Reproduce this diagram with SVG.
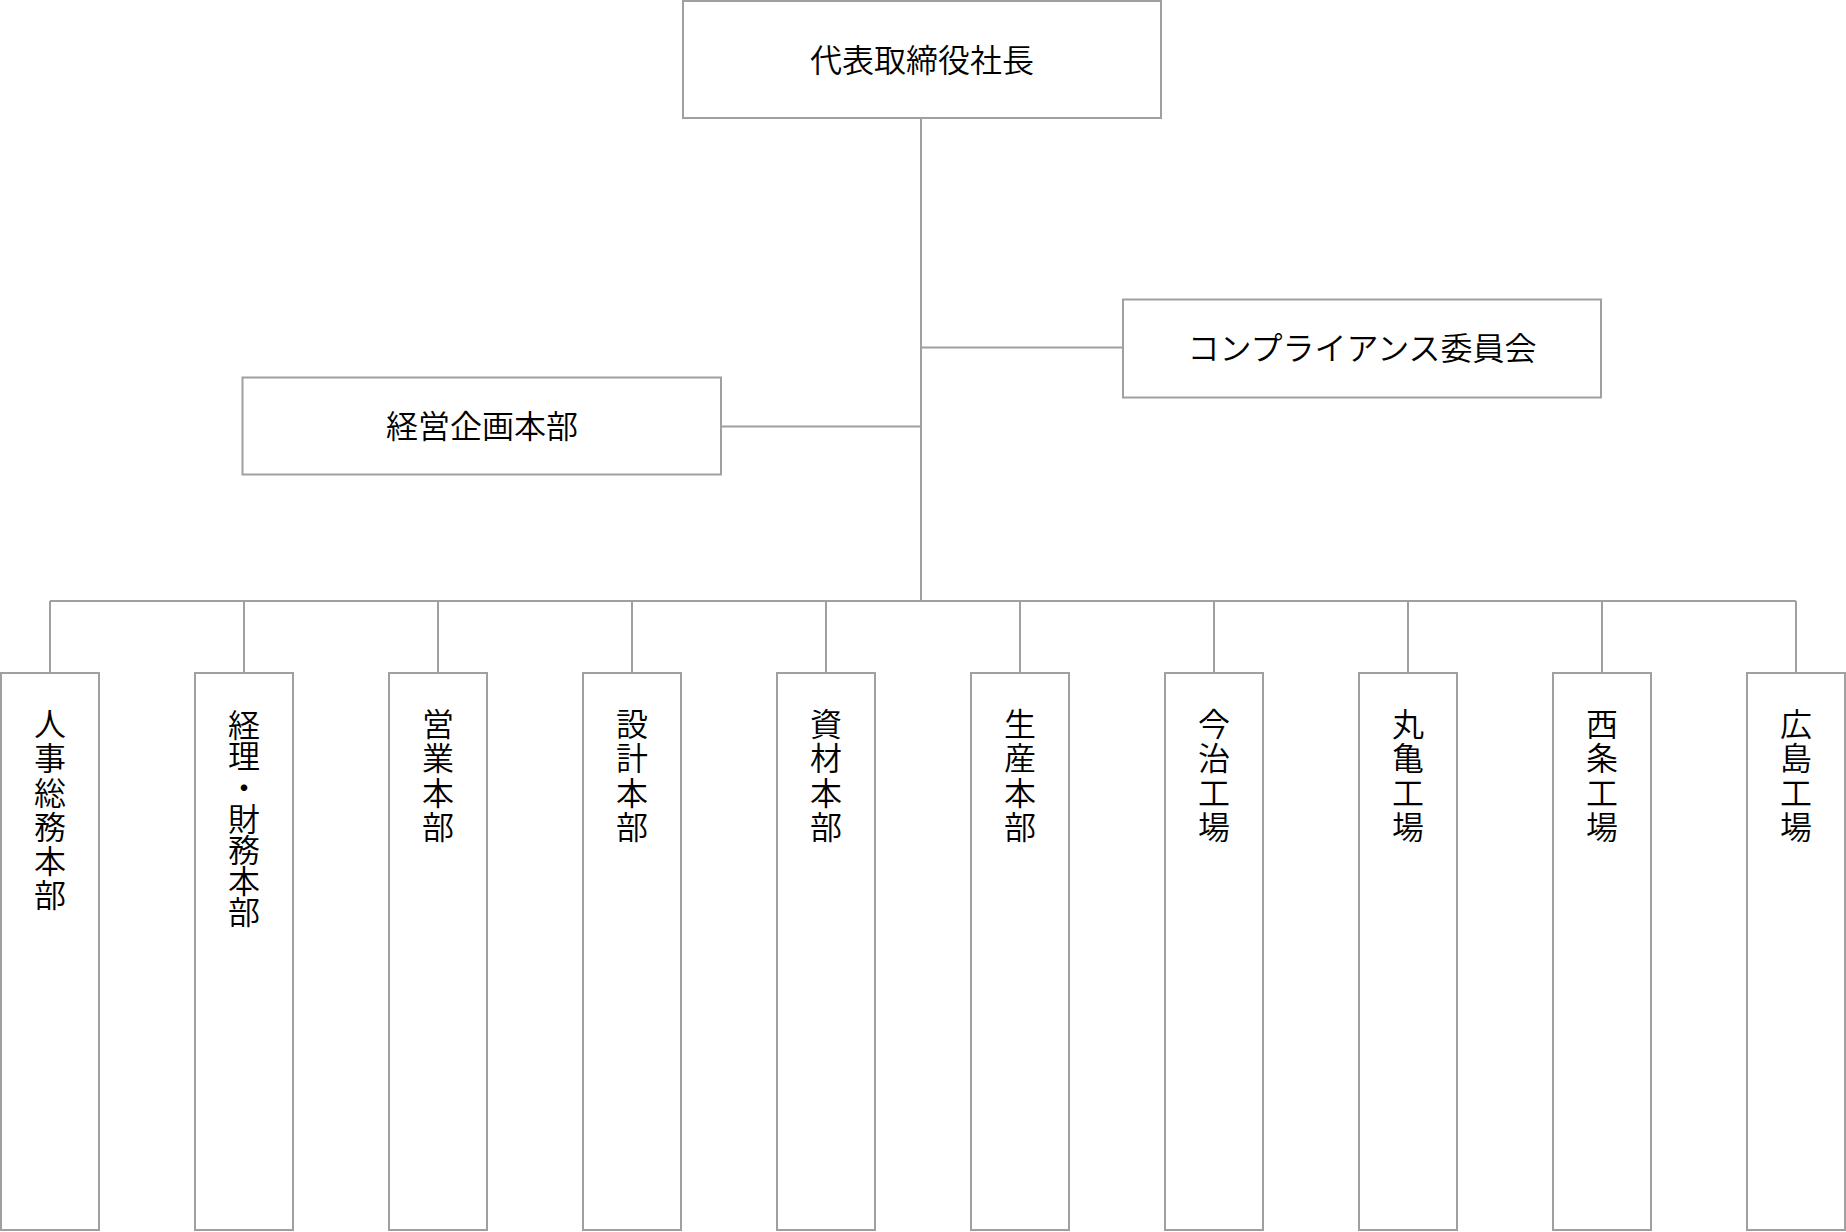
<svg xmlns="http://www.w3.org/2000/svg" width="1846" height="1232" viewBox="0 0 1846 1232">
<style>
.box{fill:#fff;stroke:#a0a0a0;stroke-width:2}
.ln{stroke:#a0a0a0;stroke-width:2;fill:none}
.t{font-family:"Noto Sans CJK JP","Noto Sans CJK SC",sans-serif;font-size:32px;font-weight:350;fill:#000;text-anchor:middle;dominant-baseline:central}
.v{font-family:"Noto Sans CJK JP","Noto Sans CJK SC",sans-serif;font-size:32px;font-weight:350;fill:#000;writing-mode:vertical-rl;text-orientation:upright;text-anchor:start;letter-spacing:2.2px}
.v7{letter-spacing:-0.8px}
</style>
<rect width="1846" height="1232" fill="#fff"/>
<g id="connectors">
<line class="ln" x1="921" y1="118" x2="921" y2="601"/>
<line class="ln" x1="921" y1="347.5" x2="1123" y2="347.5"/>
<line class="ln" x1="721" y1="426.5" x2="921" y2="426.5"/>
<line class="ln" x1="50" y1="601" x2="1796" y2="601"/>
<line class="ln" x1="50" y1="601" x2="50" y2="673"/>
<line class="ln" x1="244" y1="601" x2="244" y2="673"/>
<line class="ln" x1="438" y1="601" x2="438" y2="673"/>
<line class="ln" x1="632" y1="601" x2="632" y2="673"/>
<line class="ln" x1="826" y1="601" x2="826" y2="673"/>
<line class="ln" x1="1020" y1="601" x2="1020" y2="673"/>
<line class="ln" x1="1214" y1="601" x2="1214" y2="673"/>
<line class="ln" x1="1408" y1="601" x2="1408" y2="673"/>
<line class="ln" x1="1602" y1="601" x2="1602" y2="673"/>
<line class="ln" x1="1796" y1="601" x2="1796" y2="673"/>
</g>
<g id="president">
<rect class="box" x="683" y="1" width="478" height="117"/>
<text class="t" x="922" y="57.5">代表取締役社長</text>
</g>
<g id="compliance">
<rect class="box" x="1123" y="299.5" width="478" height="98"/>
<text class="t" x="1362" y="345.5">コンプライアンス委員会</text>
</g>
<g id="planning">
<rect class="box" x="242.5" y="377.5" width="478.5" height="97"/>
<text class="t" x="482" y="423.5">経営企画本部</text>
</g>
<g id="hr">
<rect class="box" x="1" y="673" width="98" height="557"/>
<text class="v" x="50" y="708">人事総務本部</text>
</g>
<g id="finance">
<rect class="box" x="195" y="673" width="98" height="557"/>
<text class="v v7" x="244" y="709">経理・財務本部</text>
</g>
<g id="sales">
<rect class="box" x="389" y="673" width="98" height="557"/>
<text class="v" x="438" y="708">営業本部</text>
</g>
<g id="design">
<rect class="box" x="583" y="673" width="98" height="557"/>
<text class="v" x="632" y="708">設計本部</text>
</g>
<g id="materials">
<rect class="box" x="777" y="673" width="98" height="557"/>
<text class="v" x="826" y="708">資材本部</text>
</g>
<g id="production">
<rect class="box" x="971" y="673" width="98" height="557"/>
<text class="v" x="1020" y="708">生産本部</text>
</g>
<g id="imabari">
<rect class="box" x="1165" y="673" width="98" height="557"/>
<text class="v" x="1214" y="708">今治工場</text>
</g>
<g id="marugame">
<rect class="box" x="1359" y="673" width="98" height="557"/>
<text class="v" x="1408" y="708">丸亀工場</text>
</g>
<g id="saijo">
<rect class="box" x="1553" y="673" width="98" height="557"/>
<text class="v" x="1602" y="708">西条工場</text>
</g>
<g id="hiroshima">
<rect class="box" x="1747" y="673" width="98" height="557"/>
<text class="v" x="1796" y="708">広島工場</text>
</g>
</svg>
